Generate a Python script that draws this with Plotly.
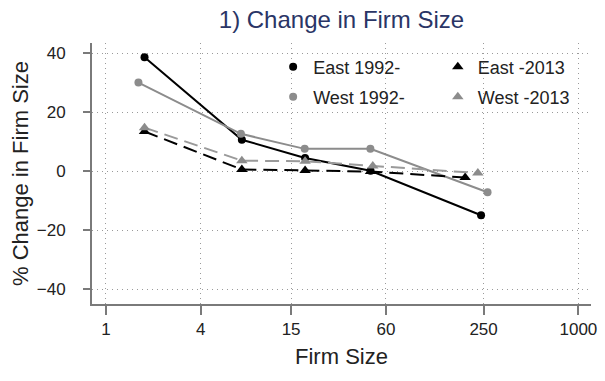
import plotly.graph_objects as go

# ---- data ----
east_1992_x = [1.76, 7.3, 18.4, 47.9, 241]
east_1992_y = [38.7, 10.7, 4.5, 0.2, -14.9]
west_1992_x = [1.61, 7.2, 18.3, 47.8, 265]
west_1992_y = [30.1, 12.7, 7.6, 7.6, -7.1]
east_2013_x = [1.76, 7.3, 18.4, 47.9, 191]
east_2013_y = [13.5, 0.6, 0.3, -0.1, -2.1]
west_2013_x = [1.76, 7.3, 18.4, 49.5, 230]
west_2013_y = [14.8, 3.6, 3.4, 1.8, -0.6]

x_ticks = [1, 4, 15, 60, 250, 1000]
y_ticks = [-40, -20, 0, 20, 40]

BLACK = "#000000"
GRAY = "#8c8c8c"
GRAY_DASH = "#9a9a9a"
TXT = "#222222"
FONT = "Liberation Sans, Arial, Helvetica, sans-serif"

fig = go.Figure()

series = [
    ("East 1992-", east_1992_x, east_1992_y, BLACK, BLACK, "solid", "circle", 8, "legend"),
    ("West 1992-", west_1992_x, west_1992_y, GRAY, GRAY, "solid", "circle", 8, "legend2"),
    ("East -2013", east_2013_x, east_2013_y, BLACK, BLACK, "14px,7px", "triangle-up", 10, "legend3"),
    ("West -2013", west_2013_x, west_2013_y, GRAY_DASH, GRAY, "14px,7px", "triangle-up", 10, "legend4"),
]

for name, xs, ys, lc, mc, dash, sym, ms, lg in series:
    fig.add_trace(go.Scatter(
        x=xs, y=ys, mode="lines+markers", name=name, showlegend=False,
        line=dict(color=lc, width=2, dash=dash),
        marker=dict(color=mc, symbol=sym, size=ms),
    ))
    # legend entry: marker only
    fig.add_trace(go.Scatter(
        x=[None], y=[None], mode="markers", name=name, legend=lg,
        marker=dict(color=mc, symbol=sym, size=ms),
    ))

legend_common = dict(font=dict(family=FONT, size=18, color=TXT), bgcolor="rgba(0,0,0,0)",
                     xanchor="left", yanchor="middle", borderwidth=0)

GRID = dict(showgrid=True, gridcolor="#9a9a9a", gridwidth=1, griddash="1px,4px")

fig.update_layout(
    width=605, height=381,
    margin=dict(l=92, r=8, t=43, b=77),
    paper_bgcolor="white", plot_bgcolor="white",
    font=dict(family=FONT, color=TXT),
    title=dict(text="1) Change in Firm Size", x=0.5, xref="paper", xanchor="center",
               y=1 - 20 / 381, yanchor="middle",
               font=dict(family=FONT, size=24, color="#2a3566")),
    legend=dict(x=0.363, y=0.908, **legend_common),
    legend2=dict(x=0.363, y=0.793, **legend_common),
    legend3=dict(x=0.693, y=0.908, **legend_common),
    legend4=dict(x=0.693, y=0.793, **legend_common),
    xaxis=dict(
        type="log", range=[-0.088, 3.08],
        tickvals=x_ticks, ticktext=[str(v) for v in x_ticks],
        showline=True, linecolor="#7a7a7a", linewidth=2,
        ticks="outside", ticklen=9, tickwidth=1.5, tickcolor="#7a7a7a",
        tickfont=dict(family=FONT, size=17, color=TXT),
        zeroline=False, mirror=False, **GRID,
        title=dict(text="Firm Size", font=dict(family=FONT, size=22, color=TXT), standoff=10),
    ),
    yaxis=dict(
        range=[-45, 43.5],
        tickvals=y_ticks,
        showline=True, linecolor="#7a7a7a", linewidth=2,
        ticks="outside", ticklen=7, tickwidth=1.5, tickcolor="#7a7a7a",
        ticklabelstandoff=14,
        tickfont=dict(family=FONT, size=17, color=TXT),
        zeroline=False, mirror=False, **GRID,
        title=dict(text="% Change in Firm Size", font=dict(family=FONT, size=22, color=TXT), standoff=2),
    ),
)

fig.write_html(
    "out.html",
    config={"displayModeBar": False},
    post_script="document.body.style.margin='0';document.body.style.overflow='hidden';",
)
